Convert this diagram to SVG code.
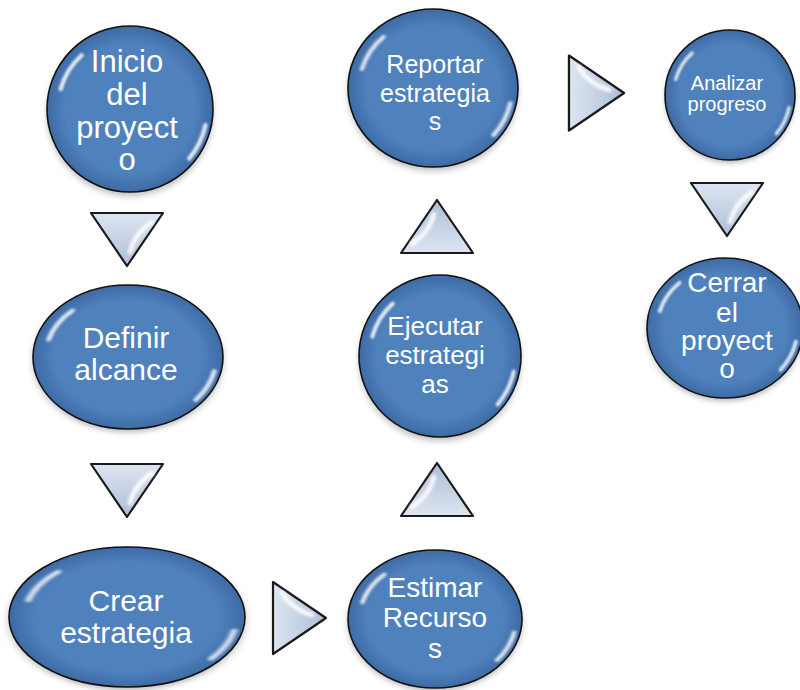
<svg xmlns="http://www.w3.org/2000/svg" xmlns:xlink="http://www.w3.org/1999/xlink" width="800" height="690" viewBox="0 0 800 690">
<defs>
<style>
.t{font-family:"Liberation Sans",Arial,sans-serif;fill:#fff;text-anchor:middle}
.tri{fill:url(#tg);stroke:#1a1a1a;stroke-width:2.2;stroke-linejoin:round}
.thl{fill:none;stroke:#fff;stroke-width:4.5;stroke-linecap:round;opacity:.9}
</style>
<radialGradient id="bg" cx="50%" cy="50%" r="50%">
<stop offset="0.78" stop-color="#4F81BD"/>
<stop offset="1" stop-color="#3D6BA4"/>
</radialGradient>
<linearGradient id="tg" x1="0" y1="0" x2="0" y2="1">
<stop offset="0" stop-color="#DDE5F1"/>
<stop offset="1" stop-color="#AEBED6"/>
</linearGradient>
<filter id="blur" x="-20%" y="-20%" width="140%" height="140%"><feGaussianBlur stdDeviation="1.6"/></filter>
<filter id="sh" x="-30%" y="-30%" width="160%" height="160%"><feGaussianBlur stdDeviation="4"/></filter>
<g id="bubble">
<ellipse cx="0" cy="5" rx="100" ry="100" fill="#000" opacity="0.25" filter="url(#sh)"/>
<circle cx="0" cy="0" r="100" fill="url(#bg)" stroke="#111" stroke-width="1.6" vector-effect="non-scaling-stroke"/>
<path d="M -83.6,-24 A 87 87 0 0 1 -58.2,-64.7" fill="none" stroke="#fff" stroke-width="5" stroke-linecap="round" opacity="0.85" filter="url(#blur)"/>
<path d="M 91,19.3 A 93 93 0 0 1 71.2,59.8" fill="none" stroke="#fff" stroke-width="5" stroke-linecap="round" opacity="0.85" filter="url(#blur)"/>
</g>
<g id="tri">
<polygon class="tri" points="-36,-26 36,-26 0,27"/>
<path class="thl" d="M 3,13 Q 8,-6 25,-17" filter="url(#blur)"/>
</g>
</defs>
<rect width="800" height="690" fill="#fff"/>

<g id="connectors">
<use xlink:href="#tri" transform="translate(127,239)"/>
<use xlink:href="#tri" transform="translate(127,490)"/>
<use xlink:href="#tri" transform="translate(299,618) rotate(-90)"/>
<use xlink:href="#tri" transform="translate(437,490) rotate(180)"/>
<use xlink:href="#tri" transform="translate(437,227) rotate(180)"/>
<use xlink:href="#tri" transform="translate(596,93) scale(1.04) rotate(-90)"/>
<use xlink:href="#tri" transform="translate(727,209)"/>
</g>

<g id="n-inicio">
<use xlink:href="#bubble" transform="translate(130,109) scale(0.83,0.83)"/>
<text class="t" font-size="31"><tspan x="127" y="72">Inicio</tspan><tspan x="127" y="105">del</tspan><tspan x="127" y="138">proyect</tspan><tspan x="127" y="170">o</tspan></text>
</g>

<g id="n-definir">
<use xlink:href="#bubble" transform="translate(128,357) scale(0.95,0.72)"/>
<text class="t" font-size="30"><tspan x="126" y="348">Definir</tspan><tspan x="126" y="380">alcance</tspan></text>
</g>

<g id="n-crear">
<use xlink:href="#bubble" transform="translate(127,617) scale(1.18,0.70)"/>
<text class="t" font-size="30"><tspan x="126" y="611">Crear</tspan><tspan x="126" y="643">estrategia</tspan></text>
</g>

<g id="n-estimar">
<use xlink:href="#bubble" transform="translate(435,619) scale(0.87,0.69)"/>
<text class="t" font-size="28"><tspan x="435" y="597">Estimar</tspan><tspan x="435" y="627">Recurso</tspan><tspan x="435" y="658">s</tspan></text>
</g>

<g id="n-ejecutar">
<use xlink:href="#bubble" transform="translate(440,356) scale(0.81,0.81)"/>
<text class="t" font-size="26"><tspan x="435" y="335">Ejecutar</tspan><tspan x="435" y="364">estrategi</tspan><tspan x="435" y="393">as</tspan></text>
</g>

<g id="n-reportar">
<use xlink:href="#bubble" transform="translate(433,88) scale(0.85,0.79)"/>
<text class="t" font-size="25"><tspan x="435" y="73">Reportar</tspan><tspan x="435" y="102">estrategia</tspan><tspan x="435" y="130">s</tspan></text>
</g>

<g id="n-analizar">
<use xlink:href="#bubble" transform="translate(730,95) scale(0.65,0.65)"/>
<text class="t" font-size="20"><tspan x="727" y="90">Analizar</tspan><tspan x="727" y="111">progreso</tspan></text>
</g>

<g id="n-cerrar">
<use xlink:href="#bubble" transform="translate(725,328) scale(0.78,0.70)"/>
<text class="t" font-size="28"><tspan x="727" y="292">Cerrar</tspan><tspan x="727" y="322">el</tspan><tspan x="727" y="350">proyect</tspan><tspan x="727" y="378">o</tspan></text>
</g>
</svg>
